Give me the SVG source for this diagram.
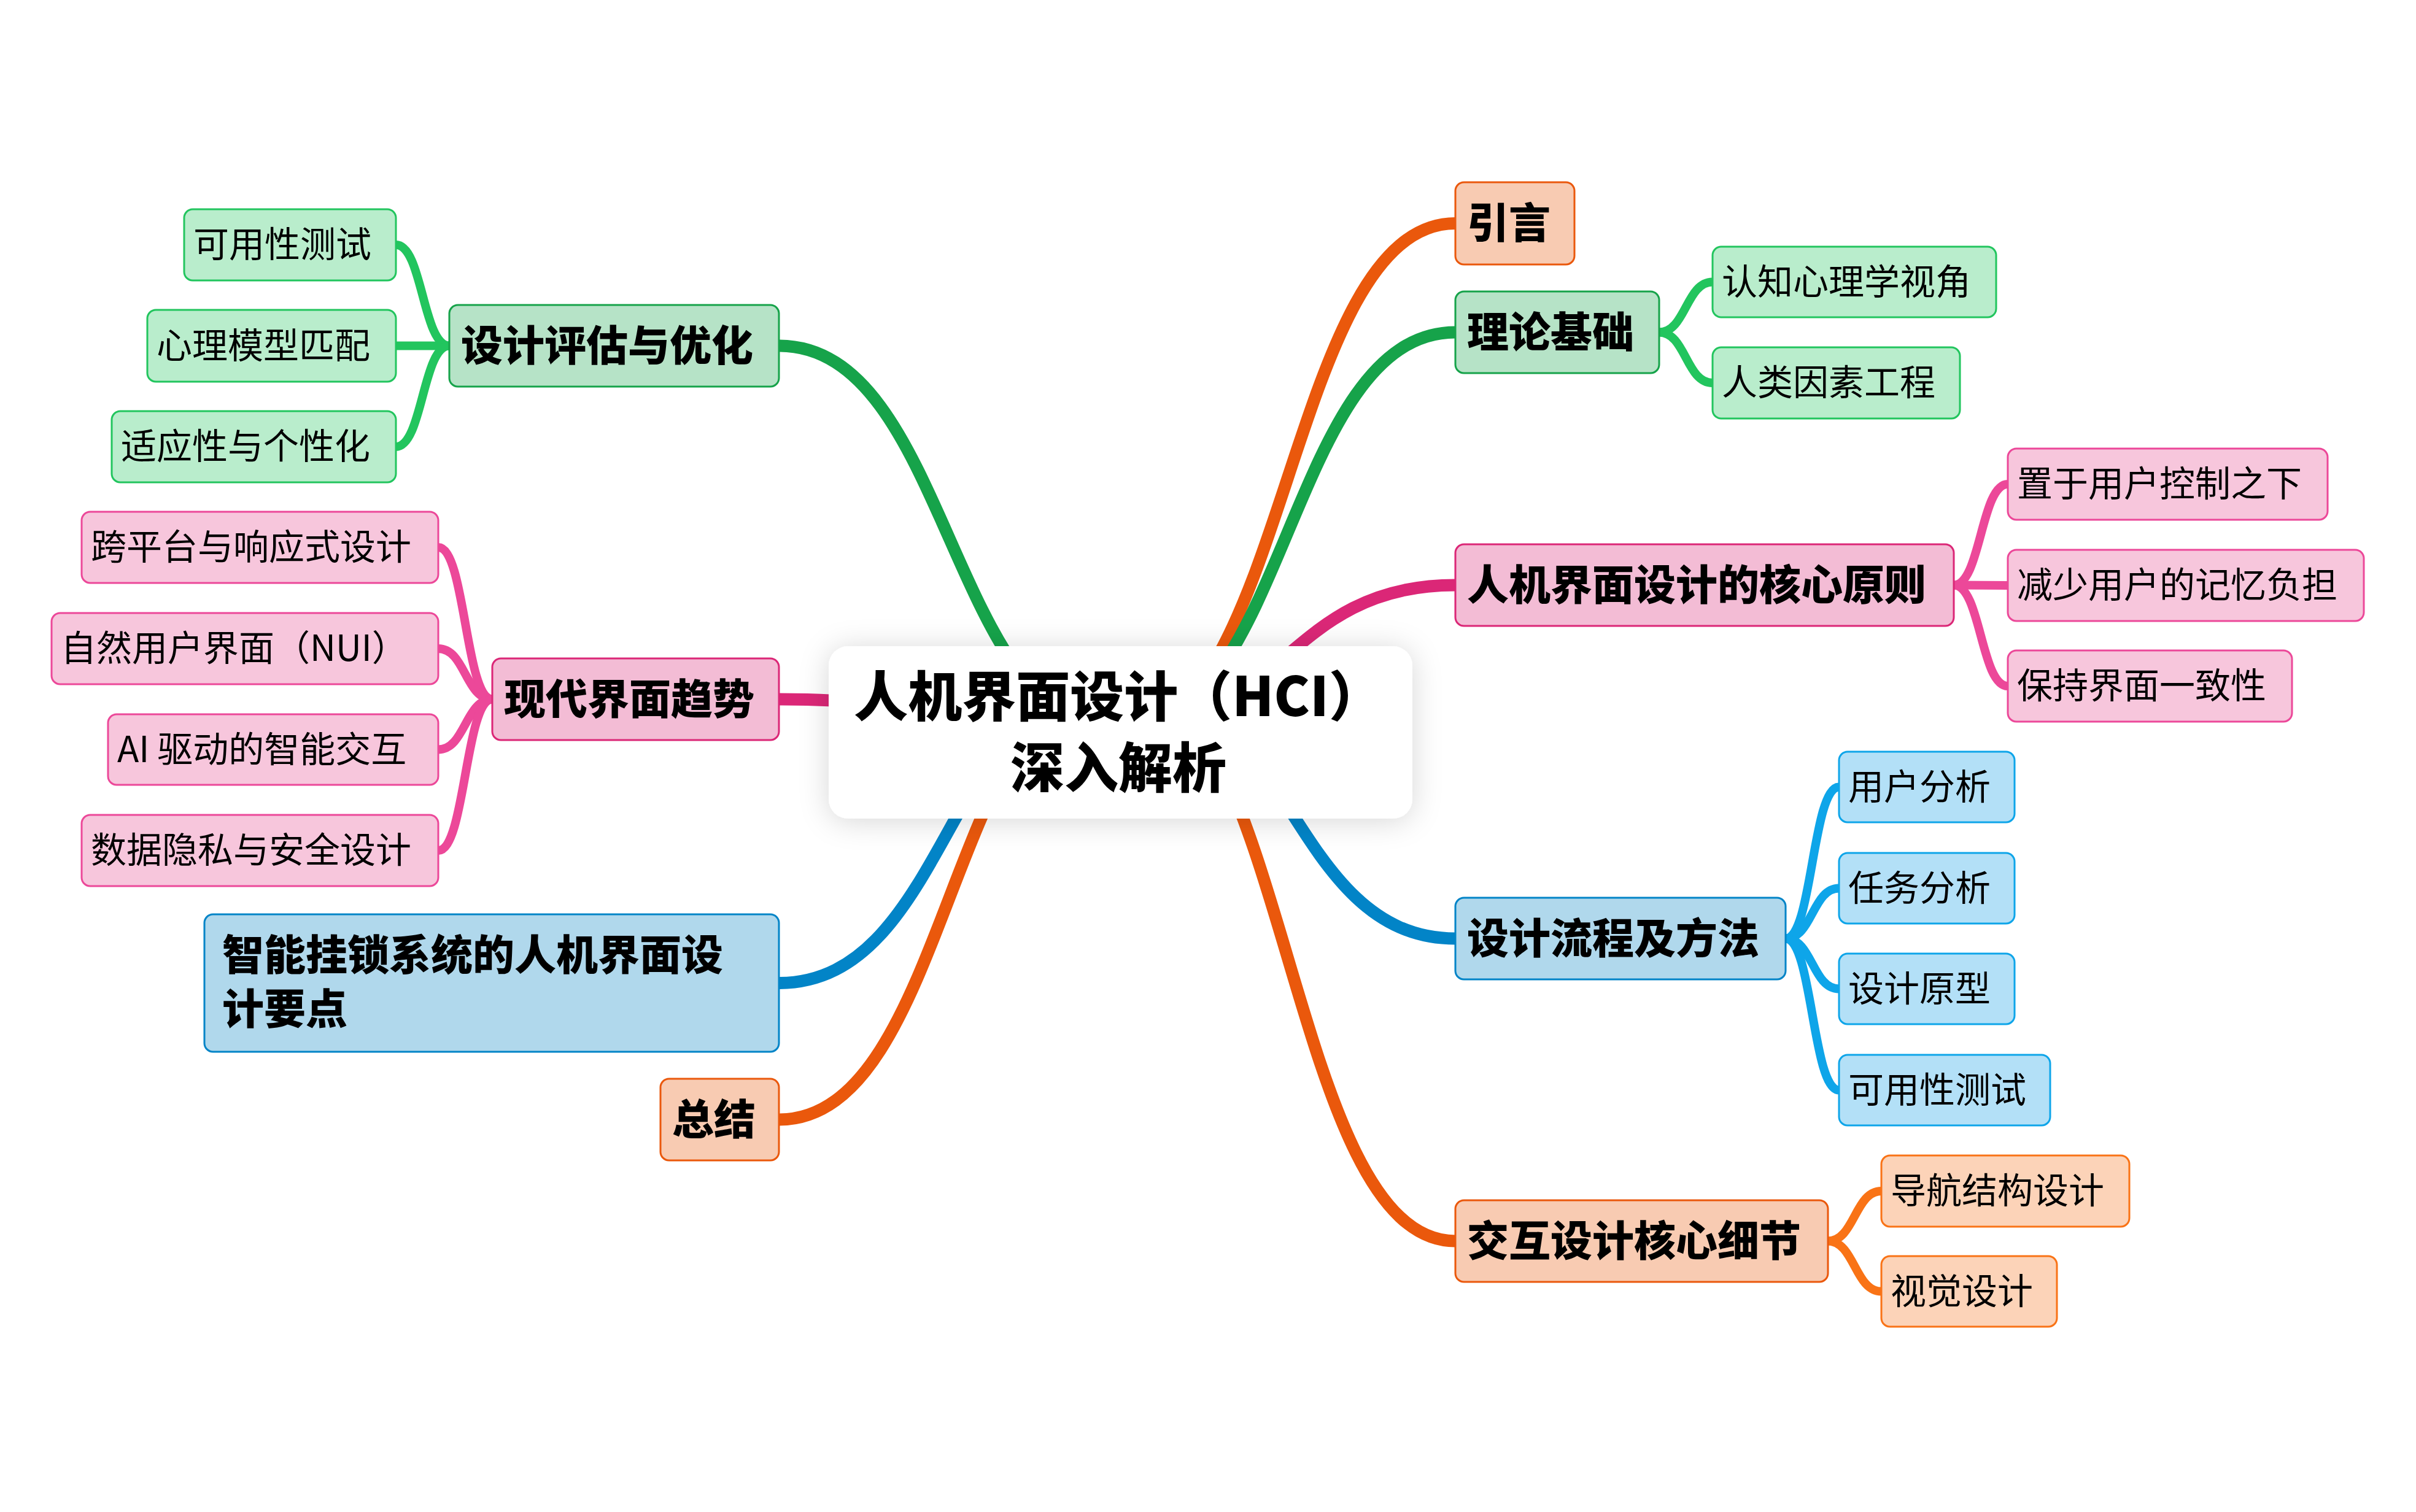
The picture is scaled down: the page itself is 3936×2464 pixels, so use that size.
<svg xmlns="http://www.w3.org/2000/svg" width="3936" height="2464" viewBox="0 0 3936 2464">
<defs>
<filter id="sh" x="-20%" y="-40%" width="140%" height="180%">
<feDropShadow dx="0" dy="4" stdDeviation="24" flood-color="#000" flood-opacity="0.16"/>
</filter>
<style>
text{font-family:"Noto Sans CJK SC","Noto Sans",sans-serif;fill:#000}
.mt{font-size:68px;font-weight:900}
.st{font-size:58px;font-weight:400}
.ct{font-size:88px;font-weight:900}
.main{fill:none;stroke-width:20}
.sub{fill:none;stroke-width:14}
.lo{stroke:#EA580C}.lg{stroke:#16A34A}.lp{stroke:#DB2777}.lb{stroke:#0284C7}
.so{stroke:#F97316}.sg{stroke:#22C55E}.sp{stroke:#EC4899}.sb{stroke:#0EA5E9}
.no{fill:#F8CBB2;stroke:#EA580C;stroke-width:3}
.ng{fill:#B6E3C7;stroke:#16A34A;stroke-width:3}
.np{fill:#F3BCD5;stroke:#DB2777;stroke-width:3}
.nb{fill:#B0D8EC;stroke:#0284C7;stroke-width:3}
.mo{fill:#FCD3B8;stroke:#F97316;stroke-width:3}
.mg{fill:#B9EDCC;stroke:#22C55E;stroke-width:3}
.mp{fill:#F7C6DC;stroke:#EC4899;stroke-width:3}
.mb{fill:#B3E0F7;stroke:#0EA5E9;stroke-width:3}
</style>
</defs>
<rect width="3936" height="2464" fill="#fff"/>
<g id="connectors">
<path class="main lo" d="M1825,1193 C2098,1193 2098,364 2371,364"/>
<path class="main lg" d="M1825,1193 C2098,1193 2098,541.5 2371,541.5"/>
<path class="main lp" d="M1810,1193 C2090,1193 2090,953.5 2371,953.5"/>
<path class="main lb" d="M1825,1100 C2098,1100 2098,1529.5 2371,1529.5"/>
<path class="main lo" d="M1825,1100 C2098,1100 2098,2022.5 2371,2022.5"/>
<path class="main lg" d="M1825,1193 C1547,1193 1547,563.5 1269,563.5"/>
<path class="main lp" d="M1825,1193 C1547,1193 1547,1139.5 1269,1139.5"/>
<path class="main lb" d="M1825,1100 C1547,1100 1547,1602 1269,1602"/>
<path class="main lo" d="M1825,1100 C1547,1100 1547,1824.5 1269,1824.5"/>
<path class="sub sg" d="M2703,541.5 C2746.5,541.5 2746.5,459.5 2790,459.5"/>
<path class="sub sg" d="M2703,541.5 C2746.5,541.5 2746.5,624 2790,624"/>
<path class="sub sp" d="M3183,953.5 C3227,953.5 3227,789 3271,789"/>
<path class="sub sp" d="M3183,953.5 C3227,953.5 3227,954 3271,954"/>
<path class="sub sp" d="M3183,953.5 C3227,953.5 3227,1118 3271,1118"/>
<path class="sub sb" d="M2909,1529.5 C2952.5,1529.5 2952.5,1282.5 2996,1282.5"/>
<path class="sub sb" d="M2909,1529.5 C2952.5,1529.5 2952.5,1447.5 2996,1447.5"/>
<path class="sub sb" d="M2909,1529.5 C2952.5,1529.5 2952.5,1611.5 2996,1611.5"/>
<path class="sub sb" d="M2909,1529.5 C2952.5,1529.5 2952.5,1776.5 2996,1776.5"/>
<path class="sub so" d="M2978,2022.5 C3021.5,2022.5 3021.5,1941 3065,1941"/>
<path class="sub so" d="M2978,2022.5 C3021.5,2022.5 3021.5,2104.5 3065,2104.5"/>
<path class="sub sg" d="M732,563.5 C688.5,563.5 688.5,399 645,399"/>
<path class="sub sg" d="M732,563.5 C688.5,563.5 688.5,563.5 645,563.5"/>
<path class="sub sg" d="M732,563.5 C688.5,563.5 688.5,728 645,728"/>
<path class="sub sp" d="M802,1139.5 C758,1139.5 758,892 714,892"/>
<path class="sub sp" d="M802,1139.5 C758,1139.5 758,1057 714,1057"/>
<path class="sub sp" d="M802,1139.5 C758,1139.5 758,1221.5 714,1221.5"/>
<path class="sub sp" d="M802,1139.5 C758,1139.5 758,1386 714,1386"/>
</g>
<g id="root">
<rect x="1350" y="1053" width="951" height="281" rx="32" fill="#fff" filter="url(#sh)"/>
<text class="ct" text-anchor="middle"><tspan x="1822" y="1167">人机界面设计（HCI）</tspan><tspan x="1822" y="1283">深入解析</tspan></text>
</g>
<g id="n-yinyan"><rect class="no" x="2371" y="297" width="194" height="134" rx="14"/><text class="mt" x="2390" y="388">引言</text></g>
<g id="n-lilun"><rect class="ng" x="2371" y="475" width="332" height="133" rx="14"/><text class="mt" x="2390" y="565.5">理论基础</text></g>
<g id="n-renzhi"><rect class="mg" x="2790" y="402" width="462" height="115" rx="14"/><text class="st" x="2805" y="479.5">认知心理学视角</text></g>
<g id="n-renlei"><rect class="mg" x="2790" y="566" width="403" height="116" rx="14"/><text class="st" x="2805" y="644">人类因素工程</text></g>
<g id="n-yuanze"><rect class="np" x="2371" y="887" width="812" height="133" rx="14"/><text class="mt" x="2390" y="977.5">人机界面设计的核心原则</text></g>
<g id="n-zhiyu"><rect class="mp" x="3271" y="731" width="521" height="116" rx="14"/><text class="st" x="3286" y="809">置于用户控制之下</text></g>
<g id="n-jianshao"><rect class="mp" x="3271" y="896" width="580" height="116" rx="14"/><text class="st" x="3286" y="974">减少用户的记忆负担</text></g>
<g id="n-baochi"><rect class="mp" x="3271" y="1060" width="463" height="116" rx="14"/><text class="st" x="3286" y="1138">保持界面一致性</text></g>
<g id="n-liucheng"><rect class="nb" x="2371" y="1463" width="538" height="133" rx="14"/><text class="mt" x="2390" y="1553.5">设计流程及方法</text></g>
<g id="n-yonghu"><rect class="mb" x="2996" y="1225" width="286" height="115" rx="14"/><text class="st" x="3011" y="1302.5">用户分析</text></g>
<g id="n-renwu"><rect class="mb" x="2996" y="1390" width="286" height="115" rx="14"/><text class="st" x="3011" y="1467.5">任务分析</text></g>
<g id="n-yuanxing"><rect class="mb" x="2996" y="1554" width="286" height="115" rx="14"/><text class="st" x="3011" y="1631.5">设计原型</text></g>
<g id="n-keyong-r"><rect class="mb" x="2996" y="1719" width="344" height="115" rx="14"/><text class="st" x="3011" y="1796.5">可用性测试</text></g>
<g id="n-jiaohu"><rect class="no" x="2371" y="1956" width="607" height="133" rx="14"/><text class="mt" x="2390" y="2046.5">交互设计核心细节</text></g>
<g id="n-daohang"><rect class="mo" x="3065" y="1883" width="404" height="116" rx="14"/><text class="st" x="3080" y="1961">导航结构设计</text></g>
<g id="n-shijue"><rect class="mo" x="3065" y="2047" width="286" height="115" rx="14"/><text class="st" x="3080" y="2124.5">视觉设计</text></g>
<g id="n-pinggu"><rect class="ng" x="732" y="497" width="537" height="133" rx="14"/><text class="mt" x="751" y="587.5">设计评估与优化</text></g>
<g id="n-keyong-l"><rect class="mg" x="300" y="341" width="345" height="116" rx="14"/><text class="st" x="315" y="419">可用性测试</text></g>
<g id="n-xinli"><rect class="mg" x="240" y="505" width="405" height="117" rx="14"/><text class="st" x="255" y="583.5">心理模型匹配</text></g>
<g id="n-shiying"><rect class="mg" x="182" y="670" width="463" height="116" rx="14"/><text class="st" x="197" y="748">适应性与个性化</text></g>
<g id="n-xiandai"><rect class="np" x="802" y="1073" width="467" height="133" rx="14"/><text class="mt" x="821" y="1163.5">现代界面趋势</text></g>
<g id="n-kuapingtai"><rect class="mp" x="133" y="834" width="581" height="116" rx="14"/><text class="st" x="148" y="912">跨平台与响应式设计</text></g>
<g id="n-ziran"><rect class="mp" x="84" y="999" width="630" height="116" rx="14"/><text class="st" x="99" y="1077">自然用户界面（NUI）</text></g>
<g id="n-ai"><rect class="mp" x="176" y="1164" width="538" height="115" rx="14"/><text class="st" x="191" y="1241.5">AI 驱动的智能交互</text></g>
<g id="n-shuju"><rect class="mp" x="133" y="1328" width="581" height="116" rx="14"/><text class="st" x="148" y="1406">数据隐私与安全设计</text></g>
<g id="n-guasuo"><rect class="nb" x="333" y="1490" width="936" height="224" rx="14"/><text class="mt"><tspan x="362" y="1581">智能挂锁系统的人机界面设</tspan><tspan x="362" y="1669">计要点</tspan></text></g>
<g id="n-zongjie"><rect class="no" x="1076" y="1758" width="193" height="133" rx="14"/><text class="mt" x="1095" y="1848.5">总结</text></g>
</svg>
